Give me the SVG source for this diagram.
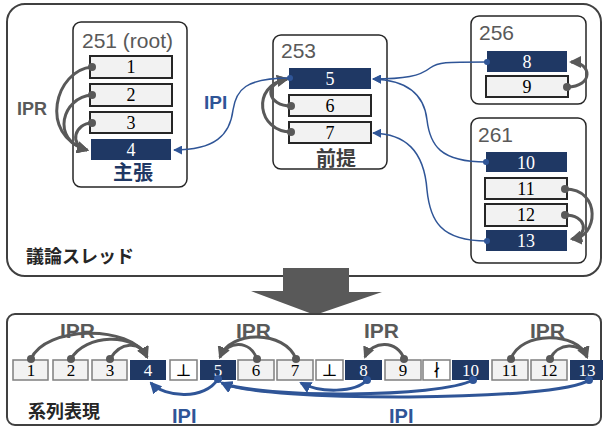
<svg xmlns="http://www.w3.org/2000/svg" width="603" height="427" viewBox="0 0 603 427">
<style>
.frame{fill:#fff;stroke:#404040;stroke-width:2}
.box{fill:#fff;stroke:#262626;stroke-width:1.5}
.lt{fill:#f2f2f2;stroke:#262626;stroke-width:2}
.dk{fill:#1f3864}
.sl{fill:#f2f2f2;stroke:#7f7f7f;stroke-width:1.5}
.sw{fill:#fff;stroke:#7f7f7f;stroke-width:1.5}
.num{font-family:"Liberation Serif","DejaVu Serif",serif;font-size:18px;text-anchor:middle}
.snum{font-family:"Liberation Serif","DejaVu Serif",serif;font-size:17px;text-anchor:middle}
.w{fill:#fff}
.b{fill:#000}
.title{font-family:"Liberation Sans",Arial,sans-serif;font-size:21px;fill:#595959}
.lbl{font-family:"Liberation Sans","Noto Sans CJK JP",sans-serif;font-weight:bold}
.gray{fill:none;stroke:#595959;stroke-width:3}
.blue{fill:none;stroke:#2f5597;stroke-width:1.5}
.blue3{fill:none;stroke:#2f5597;stroke-width:3}
.gd{fill:#595959}
.bd{fill:#2f5597}
</style>
<defs>
<marker id="ga" markerUnits="userSpaceOnUse" markerWidth="12" markerHeight="12" viewBox="0 0 12 12" refX="10" refY="6" orient="auto">
<path d="M0,0 L12,6 L0,12 Z" fill="#595959"/>
</marker>
<marker id="ba" markerUnits="userSpaceOnUse" markerWidth="9" markerHeight="9" viewBox="0 0 10 10" refX="9" refY="5" orient="auto">
<path d="M0,0 L10,5 L0,10 Z" fill="#2f5597"/>
</marker>
<marker id="ba3" markerUnits="userSpaceOnUse" markerWidth="12" markerHeight="12" viewBox="0 0 12 12" refX="10" refY="6" orient="auto">
<path d="M0,0 L12,6 L0,12 Z" fill="#2f5597"/>
</marker>
</defs>

<g id="thread">
<rect class="frame" x="7" y="4" width="594" height="272" rx="18"/>
<text class="lbl" x="26" y="263" font-size="18" fill="#262626">議論スレッド</text>
</g>

<g id="post251">
<rect class="box" x="73" y="22" width="114" height="165" rx="8"/>
<text class="title" x="82" y="48">251 (root)</text>
<rect class="lt" x="90" y="56" width="82" height="22"/><text class="num b" x="131" y="73">1</text>
<rect class="lt" x="90" y="84" width="82" height="22"/><text class="num b" x="131" y="101">2</text>
<rect class="lt" x="90" y="112" width="82" height="21"/><text class="num b" x="131" y="129">3</text>
<rect class="dk" x="91" y="139" width="80" height="21"/><text class="num w" x="131" y="156">4</text>
<text class="lbl" x="133" y="180" font-size="20" fill="#1f3864" text-anchor="middle">主張</text>
</g>

<g id="post253">
<rect class="box" x="273" y="35" width="114" height="134" rx="8"/>
<text class="title" x="281" y="58">253</text>
<rect class="dk" x="289" y="68" width="82" height="21"/><text class="num w" x="330" y="85">5</text>
<rect class="lt" x="289" y="95" width="82" height="21"/><text class="num b" x="330" y="112">6</text>
<rect class="lt" x="289" y="122" width="82" height="21"/><text class="num b" x="330" y="139">7</text>
<text class="lbl" x="336" y="166" font-size="20" fill="#404040" text-anchor="middle">前提</text>
</g>

<g id="post256">
<rect class="box" x="471" y="16" width="115" height="88" rx="8"/>
<text class="title" x="479" y="40">256</text>
<rect class="dk" x="487" y="51" width="80" height="21"/><text class="num w" x="527" y="68">8</text>
<rect class="lt" x="486" y="76" width="82" height="21"/><text class="num b" x="527" y="93">9</text>
</g>

<g id="post261">
<rect class="box" x="471" y="118" width="115" height="145" rx="8"/>
<text class="title" x="478" y="142">261</text>
<rect class="dk" x="486" y="152" width="81" height="20"/><text class="num w" x="526" y="169">10</text>
<rect class="lt" x="485" y="178" width="82" height="21"/><text class="num b" x="526" y="195">11</text>
<rect class="lt" x="485" y="204" width="82" height="22"/><text class="num b" x="526" y="221">12</text>
<rect class="dk" x="486" y="230" width="81" height="21"/><text class="num w" x="526" y="247">13</text>
</g>

<g id="bigarrow">
<polygon points="283,268 349,268 349,292 382,292 315,315 251,291 283,291" fill="#595959"/>
</g>

<g id="sequence">
<rect class="frame" x="7" y="314" width="594" height="111" rx="8"/>
<rect class="sl" x="13" y="360" width="35" height="20"/><text class="snum b" x="31" y="376">1</text>
<rect class="sl" x="53" y="360" width="35" height="20"/><text class="snum b" x="71" y="376">2</text>
<rect class="sl" x="92" y="360" width="35" height="20"/><text class="snum b" x="110" y="376">3</text>
<rect class="dk" x="130" y="360" width="36" height="20"/><text class="snum w" x="148" y="376">4</text>
<rect class="sw" x="170" y="360" width="27" height="20"/><text class="snum b" x="183.5" y="376">⊥</text>
<rect class="dk" x="200" y="360" width="36" height="20"/><text class="snum w" x="218" y="376">5</text>
<rect class="sl" x="238" y="360" width="36" height="20"/><text class="snum b" x="256" y="376">6</text>
<rect class="sl" x="277" y="360" width="36" height="20"/><text class="snum b" x="295" y="376">7</text>
<rect class="sw" x="316" y="360" width="27" height="20"/><text class="snum b" x="329.5" y="376">⊥</text>
<rect class="dk" x="345" y="360" width="37" height="20"/><text class="snum w" x="363.5" y="376">8</text>
<rect class="sl" x="385" y="360" width="36" height="20"/><text class="snum b" x="403" y="376">9</text>
<rect class="sw" x="423" y="360" width="27" height="20"/><text class="snum b" x="436.5" y="376">∤</text>
<rect class="dk" x="452" y="360" width="37" height="20"/><text class="snum w" x="470.5" y="376">10</text>
<rect class="sl" x="492" y="360" width="36" height="20"/><text class="snum b" x="510" y="376">11</text>
<rect class="sl" x="531" y="360" width="36" height="20"/><text class="snum b" x="549" y="376">12</text>
<rect class="dk" x="570" y="360" width="33" height="20"/><text class="snum w" x="587" y="376">13</text>
<text class="lbl" x="28" y="418" font-size="18" fill="#262626">系列表現</text>
</g>

<g id="labels">
<text class="lbl" x="17" y="115" font-size="18" fill="#595959">IPR</text>
<text class="lbl" x="204" y="109" font-size="19" fill="#2f5597">IPI</text>
<text class="lbl" x="60" y="338" font-size="21" fill="#595959">IPR</text>
<text class="lbl" x="236" y="338" font-size="21" fill="#595959">IPR</text>
<text class="lbl" x="364" y="338" font-size="21" fill="#595959">IPR</text>
<text class="lbl" x="530" y="338" font-size="21" fill="#595959">IPR</text>
<text class="lbl" x="172" y="423" font-size="20" fill="#2f5597">IPI</text>
<text class="lbl" x="389" y="423" font-size="20" fill="#2f5597">IPI</text>
</g>

<g id="connectors">
<!-- 251 IPR -->
<path class="gray" d="M92,67 C55,70 38,135 87,150" marker-end="url(#ga)"/>
<path class="gray" d="M92,95 C62,97 50,140 87,150" marker-end="url(#ga)"/>
<path class="gray" d="M92,123 C75,123 68,145 87,150" marker-end="url(#ga)"/>
<circle class="gd" cx="92" cy="67" r="4"/>
<circle class="gd" cx="92" cy="95" r="4"/>
<circle class="gd" cx="92" cy="123" r="4"/>
<!-- 253 IPR -->
<path class="gray" d="M291,132 C258,132 250,86 287,79" marker-end="url(#ga)"/>
<path class="gray" d="M291,106 C268,106 262,84 287,79" marker-end="url(#ga)"/>
<circle class="gd" cx="291" cy="132" r="4"/>
<circle class="gd" cx="291" cy="106" r="4"/>
<!-- 256 IPR -->
<path class="gray" d="M567,87 C594,87 592,62 571,62" marker-end="url(#ga)"/>
<circle class="gd" cx="567" cy="87" r="4"/>
<!-- 261 IPR -->
<path class="gray" d="M565,189 C602,189 598,238 572,239" marker-end="url(#ga)"/>
<path class="gray" d="M565,215 C586,215 590,234 572,239" marker-end="url(#ga)"/>
<circle class="gd" cx="565" cy="189" r="4"/>
<circle class="gd" cx="565" cy="215" r="4"/>
<!-- top IPI -->
<path class="blue" d="M290,78 C245,78 236,90 233,110 C230,135 215,150 174,150" marker-end="url(#ba)"/>
<path class="blue" d="M487,62 C445,62 438,62 430,68 C420,76 405,79 373,79" marker-end="url(#ba)"/>
<path class="blue" d="M486,162 C440,162 430,145 427,120 C424,92 405,80 373,79" marker-end="url(#ba)"/>
<path class="blue" d="M487,241 C440,241 430,220 427,190 C424,150 405,134 373,133" marker-end="url(#ba)"/>
<circle class="bd" cx="290" cy="78" r="3"/>
<circle class="bd" cx="487" cy="62" r="3"/>
<circle class="bd" cx="486" cy="162" r="3"/>
<circle class="bd" cx="487" cy="241" r="3"/>
<!-- bottom IPR -->
<path class="gray" d="M31,359 C45,326 130,324 147,357" marker-end="url(#ga)"/>
<path class="gray" d="M71,359 C85,334 135,332 147,357" marker-end="url(#ga)"/>
<path class="gray" d="M110,359 C120,342 140,340 147,357" marker-end="url(#ga)"/>
<circle class="gd" cx="31" cy="359" r="4"/>
<circle class="gd" cx="71" cy="359" r="4"/>
<circle class="gd" cx="110" cy="359" r="4"/>
<path class="gray" d="M296,359 C285,330 230,330 220,357" marker-end="url(#ga)"/>
<path class="gray" d="M257,359 C250,340 228,340 220,357" marker-end="url(#ga)"/>
<circle class="gd" cx="296" cy="359" r="4"/>
<circle class="gd" cx="257" cy="359" r="4"/>
<path class="gray" d="M404,359 C398,340 372,340 365,357" marker-end="url(#ga)"/>
<circle class="gd" cx="404" cy="359" r="4"/>
<path class="gray" d="M511,359 C520,331 578,331 587,357" marker-end="url(#ga)"/>
<path class="gray" d="M550,359 C558,342 580,342 587,357" marker-end="url(#ga)"/>
<circle class="gd" cx="511" cy="359" r="4"/>
<circle class="gd" cx="550" cy="359" r="4"/>
<!-- bottom IPI -->
<path class="blue3" d="M218,379 C205,400 165,398 151,383" marker-end="url(#ba3)"/>
<path class="blue3" d="M367,380 C355,393 320,393 301,383" marker-end="url(#ba3)"/>
<path class="blue3" d="M473,380 C440,398 260,398 222,383" marker-end="url(#ba3)"/>
<path class="blue3" d="M589,380 C560,402 260,402 222,383" marker-end="url(#ba3)"/>
<circle class="bd" cx="218" cy="379" r="4"/>
<circle class="bd" cx="367" cy="380" r="4"/>
<circle class="bd" cx="473" cy="380" r="4"/>
<circle class="bd" cx="589" cy="380" r="4"/>
</g>
</svg>
